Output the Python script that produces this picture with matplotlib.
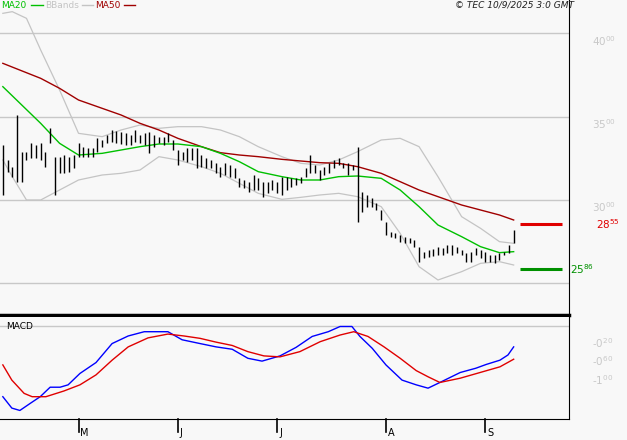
import numpy as np
import matplotlib
matplotlib.use("Agg")
import matplotlib.pyplot as plt

# daily bars (high / low), one per trading day
highs = [33.3, 32.4, 32.0, 35.1, 32.9, 32.9, 33.44, 33.3, 33.4, 32.9, 34.3, 32.6, 32.6, 32.7, 32.6, 32.7,
         33.4, 33.2, 33.1, 33.1, 33.7, 33.6, 33.9, 34.2, 34.14, 34.1, 34.0, 33.9, 34.2, 33.9, 34.0, 34.1,
         33.9, 33.8, 33.8, 34.0, 33.6, 33.0, 32.9, 33.1, 33.1, 33.1, 32.7, 32.5, 32.4, 32.2, 32.0, 32.2,
         32.1, 31.9, 31.3, 31.2, 31.1, 31.5, 31.3, 31.1, 31.1, 31.2, 31.1, 31.4, 31.4, 31.3, 31.3, 31.4,
         31.9, 32.7, 32.1, 31.8, 32.0, 32.2, 32.4, 32.5, 32.2, 32.2, 32.1, 33.2, 30.5, 30.3, 30.1, 29.8,
         29.4, 28.7, 28.1, 28.0, 27.9, 27.8, 27.7, 27.6, 27.2, 26.9, 27.0, 27.04, 27.2, 27.1, 27.3, 27.3,
         27.2, 27.0, 26.8, 26.9, 27.1, 27.0, 26.9, 26.7, 26.7, 26.8, 26.9, 27.3, 28.2]
lows = [30.3, 31.7, 31.4, 31.1, 31.1, 32.4, 32.5, 32.5, 32.4, 32.0, 33.44, 30.3, 31.6, 31.6, 31.7, 31.9,
        32.6, 32.6, 32.6, 32.6, 32.9, 33.2, 33.4, 33.5, 33.4, 33.36, 33.3, 33.3, 33.5, 33.4, 33.3, 32.8,
        33.2, 33.4, 33.3, 33.5, 33.0, 32.1, 32.4, 32.3, 32.4, 31.9, 32.0, 31.9, 31.9, 31.6, 31.4, 31.5,
        31.4, 31.3, 30.8, 30.7, 30.5, 30.6, 30.6, 30.2, 30.4, 30.6, 30.4, 30.3, 30.6, 30.8, 30.9, 31.0,
        31.4, 31.6, 31.6, 31.2, 31.5, 31.6, 31.9, 32.1, 31.9, 31.5, 31.8, 28.7, 29.3, 29.6, 29.6, 29.4,
        28.8, 27.9, 27.8, 27.7, 27.5, 27.4, 27.4, 27.2, 26.3, 26.5, 26.6, 26.64, 26.7, 26.7, 26.8, 26.7,
        26.8, 26.7, 26.3, 26.3, 26.7, 26.5, 26.3, 26.3, 26.24, 26.4, 26.7, 26.8, 27.4]

# moving averages, sampled at these bar indices
ma_idx = [0, 8, 12, 16, 21, 25, 29, 33, 37, 42, 46, 50, 54, 59, 63, 67, 71, 75, 80, 84, 88, 92, 97, 101, 105, 108]
ma50 = [38.2, 37.3, 36.7, 36.0, 35.5, 35.1, 34.6, 34.2, 33.7, 33.2, 32.84, 32.7, 32.6, 32.44, 32.34, 32.24,
        32.2, 32.0, 31.6, 31.1, 30.6, 30.2, 29.7, 29.4, 29.1, 28.8]
ma20 = [36.8, 34.6, 33.4, 32.7, 32.8, 33.0, 33.2, 33.36, 33.36, 33.2, 32.8, 32.3, 31.7, 31.4, 31.2, 31.2,
        31.4, 31.44, 31.3, 30.6, 29.6, 28.5, 27.8, 27.2, 26.84, 26.9]
bb_idx = [0, 2, 5, 8, 12, 16, 21, 25, 29, 33, 37, 42, 46, 50, 54, 59, 63, 67, 71, 75, 80, 84, 88, 92, 97, 101, 105, 108]
bb_up = [41.2, 41.3, 40.9, 39.0, 36.6, 34.0, 33.8, 34.2, 34.5, 34.3, 34.4, 34.4, 34.2, 33.8, 33.2, 32.6,
         32.2, 32.1, 32.4, 32.9, 33.6, 33.7, 33.2, 31.4, 29.0, 28.3, 27.5, 27.4]
bb_lo = [32.4, 31.4, 30.0, 30.0, 30.6, 31.2, 31.5, 31.6, 31.8, 32.6, 32.4, 32.0, 31.6, 31.0, 30.4, 30.04,
         30.16, 30.3, 30.4, 30.2, 29.6, 28.0, 26.0, 25.2, 25.7, 26.2, 26.3, 26.1]

# MACD
macd_idx = [0, 1.9, 3.6, 5.8, 7.9, 10, 12.1, 13.8, 16.3, 19.7, 23.1, 26.5, 29.9, 34.9, 37.9, 41.7, 45.1, 48.5,
            51.8, 54.8, 58.6, 62, 65.4, 68.8, 71.3, 73.8, 75.5, 78.1, 81, 84.4, 87.4, 89.9, 92.4, 96.7, 100,
            102.2, 105.1, 106.8, 108]
macd = [-1.49, -1.73, -1.78, -1.63, -1.49, -1.29, -1.29, -1.24, -1.00, -0.77, -0.37, -0.21, -0.12, -0.12,
        -0.29, -0.37, -0.44, -0.49, -0.68, -0.74, -0.63, -0.45, -0.22, -0.12, -0.01, -0.01, -0.22, -0.47,
        -0.82, -1.14, -1.24, -1.31, -1.19, -0.98, -0.89, -0.81, -0.72, -0.61, -0.44]
sig_idx = [0, 1.9, 4.5, 6.2, 9.1, 12.9, 16.3, 19.7, 23.1, 26.5, 30.7, 34.9, 38.3, 41.7, 45.1, 48.5, 51.8,
           55.2, 58.6, 62.8, 67.1, 71.3, 74.2, 77.2, 80.6, 84, 87.4, 89.9, 92.4, 96.7, 100.9, 105.1, 108]
signal = [-0.82, -1.14, -1.42, -1.49, -1.49, -1.37, -1.24, -1.03, -0.72, -0.44, -0.25, -0.17, -0.21, -0.26,
          -0.34, -0.41, -0.54, -0.63, -0.65, -0.54, -0.33, -0.19, -0.12, -0.22, -0.44, -0.68, -0.94, -1.07,
          -1.19, -1.10, -0.98, -0.86, -0.70]

price_grid = [25, 30, 35, 40]
price_labels = ["40$^{00}$", "35$^{00}$", "30$^{00}$"]
price_label_vals = [40, 35, 30]
macd_label_vals = [-0.2, -0.6, -1.0]
macd_labels = ["-0$^{20}$", "-0$^{60}$", "-1$^{00}$"]
month_idx = [16, 37, 58, 81, 102]
month_labels = ["M", "J", "J", "A", "S"]
last_ma50 = 28.55
last_low = 25.86

BG = "#f8f8f8"
GRID = "#c8c8c8"
fig = plt.figure(figsize=(6.27, 4.40), dpi=100, facecolor=BG)
ax = fig.add_axes([0, 1 - 315 / 440, 569 / 627, 315 / 440], facecolor=BG)
ax2 = fig.add_axes([0, 1 - 419 / 440, 569 / 627, 102 / 440], facecolor=BG)

for a in (ax, ax2):
    a.set_xlim(-0.6, 119.7)
    a.set_xticks([])
    a.set_yticks([])
    for s in ("left", "top"):
        a.spines[s].set_visible(False)
    a.spines["right"].set_color("black")

ax.spines["bottom"].set_linewidth(2.5)
ax.set_ylim(23.1, 42.0)
for g in price_grid:
    ax.axhline(g, color=GRID, lw=1, zorder=0)

x = np.arange(len(highs))
ax.vlines(x, lows, highs, color="black", lw=1, zorder=3)
ax.plot(bb_idx, bb_up, color="#c4c4c4", lw=0.9, zorder=1)
ax.plot(bb_idx, bb_lo, color="#c4c4c4", lw=0.9, zorder=1)
ax.plot(ma_idx, ma50, color="#a00000", lw=1, zorder=2)
ax.plot(ma_idx, ma20, color="#00c000", lw=1, zorder=2)

ax.hlines(last_ma50, 109.3, 118.2, color="#e00000", lw=2.2)
ax.hlines(last_low, 109.3, 118.2, color="#009000", lw=2.2)
ax.text(125.4, last_ma50, "28$^{55}$", color="#e00000", fontsize=7.5, va="center", clip_on=False)
ax.text(120.0, last_low, "25$^{86}$", color="#009000", fontsize=7.5, va="center", clip_on=False)
for v, lab in zip(price_label_vals, price_labels):
    ax.text(124.5, v - 0.45, lab, color=GRID, fontsize=7.5, va="center", clip_on=False)

# legend / header
fig.text(0.002, 0.988, "MA20", color="#00c000", fontsize=6.5, va="center")
fig.lines.append(plt.Line2D([0.050, 0.068], [0.988, 0.988], color="#00c000", lw=1, transform=fig.transFigure))
fig.text(0.072, 0.988, "BBands", color="#c4c4c4", fontsize=6.5, va="center")
fig.lines.append(plt.Line2D([0.130, 0.148], [0.988, 0.988], color="#c4c4c4", lw=1, transform=fig.transFigure))
fig.text(0.152, 0.988, "MA50", color="#a00000", fontsize=6.5, va="center")
fig.lines.append(plt.Line2D([0.198, 0.216], [0.988, 0.988], color="#a00000", lw=1, transform=fig.transFigure))
fig.text(0.915, 0.988, "© TEC 10/9/2025 3:0 GMT", color="#202020", fontsize=6.5, style="italic",
         ha="right", va="center")

# MACD panel
ax2.set_ylim(-1.96, 0.19)
ax2.axhline(0.0, color=GRID, lw=1, zorder=0)
ax2.plot(macd_idx, macd, color="#0000ff", lw=1)
ax2.plot(sig_idx, signal, color="#e00000", lw=1)
ax2.text(0.6, 0.0, "MACD", fontsize=6.5, va="center", color="black")
for v, lab in zip(macd_label_vals, macd_labels):
    ax2.text(124.5, v - 0.15, lab, color=GRID, fontsize=7.5, va="center", clip_on=False)
for m, lab in zip(month_idx, month_labels):
    ax2.plot([m, m], [-1.96, -2.24], color="black", lw=1.2, clip_on=False)
    ax2.text(m + 0.4, -2.26, lab, fontsize=7, va="center", ha="left", clip_on=False)

fig.savefig("out.png", dpi=100, facecolor=BG)
